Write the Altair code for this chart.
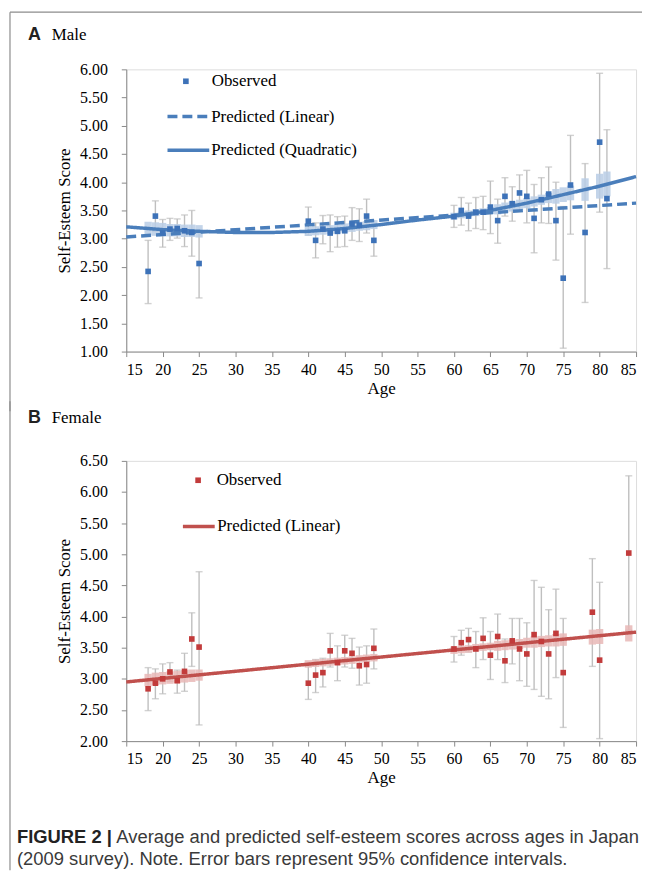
import altair as alt
import pandas as pd

# ---------------- data ----------------
x_ticks = [15, 20, 25, 30, 35, 40, 45, 50, 55, 60, 65, 70, 75, 80, 85]
yA_ticks = [1.0, 1.5, 2.0, 2.5, 3.0, 3.5, 4.0, 4.5, 5.0, 5.5, 6.0]
yB_ticks = [2.0, 2.5, 3.0, 3.5, 4.0, 4.5, 5.0, 5.5, 6.0, 6.5]

# Male observed means and 95% CI
m_age = [18, 19, 20, 21, 22, 23, 24, 25,
         40, 41, 42, 43, 44, 45, 46, 47, 48, 49,
         60, 61, 62, 63, 64, 65, 66, 67, 68, 69, 70, 71, 72, 73, 74, 75, 76, 78, 80, 81]
m_obs = [2.42, 3.40, 3.10, 3.17, 3.18, 3.14, 3.11, 2.56,
         3.31, 2.97, 3.17, 3.10, 3.13, 3.14, 3.26, 3.24, 3.40, 2.97,
         3.39, 3.50, 3.40, 3.47, 3.47, 3.56, 3.32, 3.75, 3.62, 3.81, 3.75, 3.36, 3.69, 3.79, 3.32, 2.30, 3.95, 3.11, 4.71, 3.71]
m_lo = [1.85, 3.13, 2.85, 2.97, 3.01, 2.86, 2.69, 1.95,
        3.06, 2.66, 2.91, 2.77, 2.85, 2.86, 2.97, 2.95, 3.10, 2.69,
        3.20, 3.24, 3.14, 3.18, 3.16, 3.09, 2.92, 3.40, 3.31, 3.48, 3.28, 2.75, 3.28, 3.27, 2.62, 1.06, 3.08, 1.87, 3.47, 2.47]
m_hi = [2.97, 3.67, 3.34, 3.36, 3.35, 3.42, 3.50, 3.10,
        3.56, 3.28, 3.41, 3.42, 3.39, 3.40, 3.55, 3.53, 3.70, 3.25,
        3.59, 3.73, 3.63, 3.73, 3.75, 4.02, 3.70, 4.08, 3.92, 4.13, 4.21, 3.96, 4.08, 4.27, 4.00, 3.57, 4.83, 4.33, 5.93, 4.93]
# Male predicted (quadratic) CI band at observed ages
m_band_lo = [3.06, 3.05, 3.04, 3.04, 3.04, 3.03, 3.03, 3.02,
             3.05, 3.06, 3.07, 3.08, 3.09, 3.11, 3.12, 3.14, 3.15, 3.17,
             3.34, 3.36, 3.38, 3.40, 3.42, 3.44, 3.43, 3.46, 3.48, 3.51, 3.54, 3.57, 3.60, 3.63, 3.62, 3.65, 3.68, 3.67, 3.71, 3.75]
m_band_hi = [3.30, 3.29, 3.28, 3.26, 3.26, 3.25, 3.25, 3.24,
             3.21, 3.22, 3.23, 3.24, 3.25, 3.27, 3.28, 3.30, 3.31, 3.33,
             3.46, 3.48, 3.50, 3.52, 3.54, 3.56, 3.61, 3.64, 3.66, 3.69, 3.72, 3.75, 3.78, 3.81, 3.88, 3.91, 3.94, 4.07, 4.15, 4.19]
# Male predicted lines
m_quad_age = [15, 20, 25, 30, 35, 40, 45, 50, 55, 60, 65, 70, 75, 80, 85]
m_quad = [3.21, 3.16, 3.13, 3.11, 3.11, 3.13, 3.18, 3.25, 3.33, 3.40, 3.50, 3.63, 3.78, 3.93, 4.10]
m_lin_age = [15, 85]
m_lin = [3.03, 3.63]

# Female observed means and 95% CI
f_age = [18, 19, 20, 21, 22, 23, 24, 25,
         40, 41, 42, 43, 44, 45, 46, 47, 48, 49,
         60, 61, 62, 63, 64, 65, 66, 67, 68, 69, 70, 71, 72, 73, 74, 75, 79, 80, 84]
f_obs = [2.84, 2.93, 3.00, 3.11, 2.97, 3.12, 3.64, 3.51,
         2.93, 3.06, 3.10, 3.45, 3.26, 3.45, 3.41, 3.21, 3.23, 3.49,
         3.48, 3.58, 3.63, 3.48, 3.65, 3.38, 3.68, 3.29, 3.61, 3.48, 3.40, 3.71, 3.60, 3.40, 3.73, 3.10, 4.07, 3.30, 5.02]
f_lo = [2.49, 2.68, 2.76, 2.96, 2.77, 2.80, 3.20, 2.26,
        2.67, 2.78, 2.87, 3.19, 2.97, 3.19, 3.17, 2.90, 2.93, 3.16,
        3.27, 3.38, 3.43, 3.18, 3.31, 2.99, 3.31, 2.94, 3.24, 2.97, 2.88, 2.83, 2.72, 2.68, 3.02, 2.22, 3.20, 2.04, 3.78]
f_hi = [3.18, 3.16, 3.24, 3.26, 3.14, 3.41, 4.06, 4.72,
        3.20, 3.31, 3.33, 3.73, 3.53, 3.70, 3.65, 3.51, 3.53, 3.80,
        3.68, 3.78, 3.81, 3.76, 3.98, 3.76, 4.04, 3.64, 3.97, 3.97, 3.90, 4.58, 4.47, 4.11, 4.44, 3.97, 4.93, 4.55, 6.26]
f_band_lo = [2.88, 2.90, 2.91, 2.92, 2.93, 2.94, 2.95, 2.97,
             3.18, 3.19, 3.20, 3.21, 3.22, 3.23, 3.24, 3.26, 3.27, 3.28,
             3.40, 3.41, 3.42, 3.44, 3.45, 3.46, 3.45, 3.46, 3.47, 3.48, 3.50, 3.50, 3.51, 3.52, 3.52, 3.53, 3.55, 3.56, 3.60]
f_band_hi = [3.08, 3.10, 3.11, 3.12, 3.13, 3.14, 3.15, 3.15,
             3.30, 3.31, 3.32, 3.33, 3.34, 3.35, 3.36, 3.38, 3.39, 3.40,
             3.52, 3.53, 3.54, 3.56, 3.57, 3.58, 3.61, 3.62, 3.63, 3.64, 3.66, 3.68, 3.69, 3.70, 3.72, 3.73, 3.79, 3.80, 3.86]
f_lin_age = [15, 85]
f_lin = [2.95, 3.75]

caption_bold = "FIGURE 2 |"
caption_rest = "Average and predicted self-esteem scores across ages in Japan"
caption_line2 = "(2009 survey). Note. Error bars represent 95% confidence intervals."

# ---------------- styles ----------------
SERIF = "Liberation Serif"
SANS = "Liberation Sans"
GRAY = "#BFBFBF"
AXIS_GRAY = "#898989"
BLUE_PT = "#3D72B8"
BLUE_LN = "#4A7EBB"
BLUE_BAND = "#B9CDE5"
RED_PT = "#C23B3B"
RED_LN = "#C0504D"
RED_BAND = "#E8B7B6"

W, HA, HB = 513, 284, 282

xscale = alt.Scale(domain=[15, 85], nice=False, zero=False)


def x_axis():
    return alt.Axis(values=x_ticks, title="Age", grid=False, domainColor=AXIS_GRAY,
                    tickColor=AXIS_GRAY, tickSize=5, labelFont=SERIF, labelFontSize=16,
                    labelColor="black", titleFont=SERIF, titleFontSize=17,
                    titleFontWeight="normal", titleColor="black", labelPadding=5,
                    titlePadding=3)


def y_axis(vals):
    return alt.Axis(values=vals, format=".2f", title="Self-Esteem Score", grid=False,
                    domainColor=AXIS_GRAY, tickColor=AXIS_GRAY, tickSize=5,
                    labelFont=SERIF, labelFontSize=16, labelColor="black",
                    titleFont=SERIF, titleFontSize=17, titleFontWeight="normal",
                    titleColor="black", labelPadding=14, titlePadding=6)


def txt(s, x, y, font, size, weight="normal", color="black"):
    return alt.Chart(pd.DataFrame({"t": [s]})).mark_text(
        font=font, fontSize=size, fontWeight=weight, color=color,
        align="left", baseline="middle").encode(
        x=alt.value(x), y=alt.value(y), text="t:N")


def panel(tag, ages, obs, lo, hi, blo, bhi, lines, ydom, yvals, pt_col, band_col, ln_col,
          leg_obs, label_letter, label_word, extras):
    ys = alt.Scale(domain=ydom, nice=False, zero=False)
    X = lambda f: alt.X(f, scale=xscale, axis=x_axis())
    Y = lambda f: alt.Y(f, scale=ys, axis=y_axis(yvals))
    sfield = "obs_" + tag
    dobs = pd.DataFrame({"age": ages, "obs": obs, "lo": lo, "hi": hi,
                         "blo": blo, "bhi": bhi, sfield: "Observed"})

    err = alt.Chart(dobs).mark_errorbar(ticks=True, size=7, thickness=1.4, color=GRAY).encode(
        x=X("age:Q"), y=Y("lo:Q"), y2="hi:Q")
    band = alt.Chart(dobs).transform_calculate(
        a0="datum.age - 0.5", a1="datum.age + 0.5").mark_rect(
        color=band_col, opacity=0.85).encode(
        x=X("a0:Q"), x2="a1:Q", y=Y("blo:Q"), y2="bhi:Q")

    layers = [err, band]
    for i, (name, la, lv, dash, lx, ly, lsz, loff) in enumerate(lines):
        lf = "ln_%s_%d" % (tag, i)
        dl = pd.DataFrame({"age": la, "v": lv, lf: name})
        layers.append(alt.Chart(dl).mark_line(color=ln_col, strokeWidth=3.5).encode(
            x=X("age:Q"), y=Y("v:Q"),
            strokeDash=alt.StrokeDash(lf + ":N", scale=alt.Scale(domain=[name], range=[dash]),
                                      legend=alt.Legend(orient="none", legendX=lx, legendY=ly,
                                                        title=None, symbolType="stroke",
                                                        symbolSize=lsz, symbolStrokeWidth=3.5,
                                                        symbolStrokeColor=ln_col,
                                                        labelFont=SERIF, labelFontSize=17,
                                                        labelColor="black", labelOffset=loff,
                                                        labelLimit=400, padding=0, offset=0))))
    ox, oy, ooff = leg_obs
    pts = alt.Chart(dobs).mark_square(size=32, opacity=1).encode(
        x=X("age:Q"), y=Y("obs:Q"),
        fill=alt.Fill(sfield + ":N", scale=alt.Scale(domain=["Observed"], range=[pt_col]),
                      legend=alt.Legend(orient="none", legendX=ox, legendY=oy, title=None,
                                        symbolType="square", symbolSize=32,
                                        symbolStrokeWidth=0, symbolFillColor=pt_col,
                                        labelFont=SERIF, labelFontSize=17, labelColor="black",
                                        labelOffset=ooff, padding=0, offset=0)))
    layers.append(pts)
    layers.append(txt(label_letter, -99, label_word[1], SANS, 18, "bold", "#222222"))
    layers.append(txt(label_word[0], -75, label_word[1], SERIF, 17))
    layers += extras
    ch = alt.layer(*layers).resolve_scale(strokeDash="independent").resolve_legend(
        strokeDash="independent")
    return ch


def rule(x, y, x2=None, y2=None):
    enc = {"x": alt.value(x), "y": alt.value(y)}
    if x2 is not None:
        enc["x2"] = alt.value(x2)
    if y2 is not None:
        enc["y2"] = alt.value(y2)
    return alt.Chart(pd.DataFrame({"a": [0]})).mark_rule(
        color="#8C8C8C", strokeWidth=1.2).encode(**enc)


frameA = [rule(-117, -57.5, x2=519), rule(-117, -57.5, y2=HA + 60)]
frameB = [rule(-117, -60, y2=412)]
captions = [
    txt(caption_bold, -110, 379, SANS, 18.5, "bold", "#222222"),
    txt(caption_rest, -10, 379, SANS, 18.5, "normal", "#3A3A3A"),
    txt(caption_line2, -110, 401, SANS, 18.5, "normal", "#3A3A3A"),
]

A = panel("m", m_age, m_obs, m_lo, m_hi, m_band_lo, m_band_hi,
          [("Predicted (Linear)", m_lin_age, m_lin, [10, 5], 39.5, 24.5, 1764, 0),
           ("Predicted (Quadratic)", m_quad_age, m_quad, [1, 0], 39.5, 58.5, 1764, 0)],
          [1, 6], yA_ticks, BLUE_PT, BLUE_BAND, BLUE_LN,
          (51.5, 3.5, 17.5), "A", ("Male", -34.7), frameA).properties(width=W, height=HA)

B = panel("f", f_age, f_obs, f_lo, f_hi, f_band_lo, f_band_hi,
          [("Predicted (Linear)", f_lin_age, f_lin, [1, 0], 55, 48, 1024, 0.5)],
          [2, 6.5], yB_ticks, RED_PT, RED_BAND, RED_LN,
          (63.8, 11, 10.2), "B", ("Female", -43), frameB + captions).properties(width=W, height=HB)

chart = alt.vconcat(A, B, spacing=110, bounds="flush").resolve_scale(
    fill="independent", strokeDash="independent").resolve_legend(
    fill="independent", strokeDash="independent").properties(
    padding={"left": 0, "top": 0, "right": 0, "bottom": 0}
).configure_view(stroke=None).configure(background="white")

chart.save("out.html", embed_options={"renderer": "svg", "actions": False})
